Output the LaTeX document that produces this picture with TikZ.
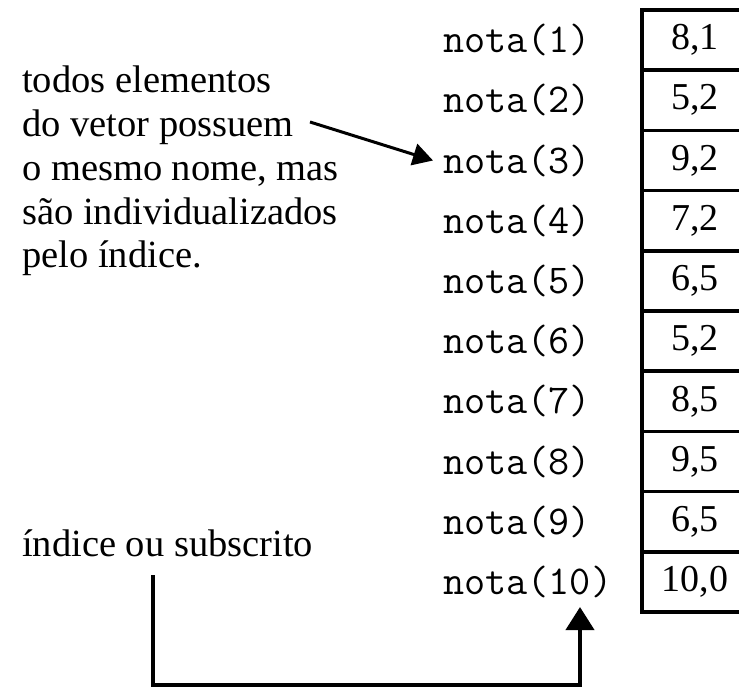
\documentclass[tikz,border=0pt]{standalone}
\usepackage{fontspec}
\setmainfont{Liberation Serif}
\usetikzlibrary{positioning,arrows.meta}

\begin{document}
\begin{tikzpicture}[x=1pt,y=-1pt,inner sep=0pt,
  cell/.style={draw,line width=3.5pt,minimum width=106pt,minimum height=60.2pt,
    font=\fontsize{38}{44}\selectfont},
  idx/.style={anchor=west,font=\ttfamily\fontsize{41}{44}\selectfont},
  lbl/.style={font=\fontsize{38.5}{43.7}\selectfont,align=left}]

\useasboundingbox (0,0) rectangle (739,689);

% the vector, cut at the right border
\begin{scope}
\clip (0,0) rectangle (739,689);
\foreach \v [count=\i] in {{8,1},{5,2},{9,2},{7,2},{6,5},{5,2},{8,5},{9,5},{6,5},{10,0}}
  \node[cell] (v\i) at (695,{10+60.2*(\i-0.5)}) {\v};
\end{scope}

% the names of the elements
\foreach \i in {1,...,10}
  \node[idx] (n\i) at (443,{10+60.2*(\i-0.5)}) {nota(\i)};

\node[lbl,anchor=north west] (txt) at (22,66)
  {todos elementos\\do vetor possuem\\o mesmo nome, mas\\s\~ao individualizados\\pelo \'{\i}ndice.};
\node[lbl,anchor=base west] (sub) at (22,556) {\'{\i}ndice ou subscrito};

\coordinate (from) at (310,122);
\coordinate (down) at (153,575);
\coordinate (up) at (580,607);

\draw[line width=3pt,-{Triangle[width=22pt,length=20pt]}] (from) -- ([xshift=-10pt]n3.west);
\draw[line width=4pt,-{Triangle[width=28pt,length=23pt]}] (down) -- (153,685) -| (up);

\end{tikzpicture}
\end{document}
